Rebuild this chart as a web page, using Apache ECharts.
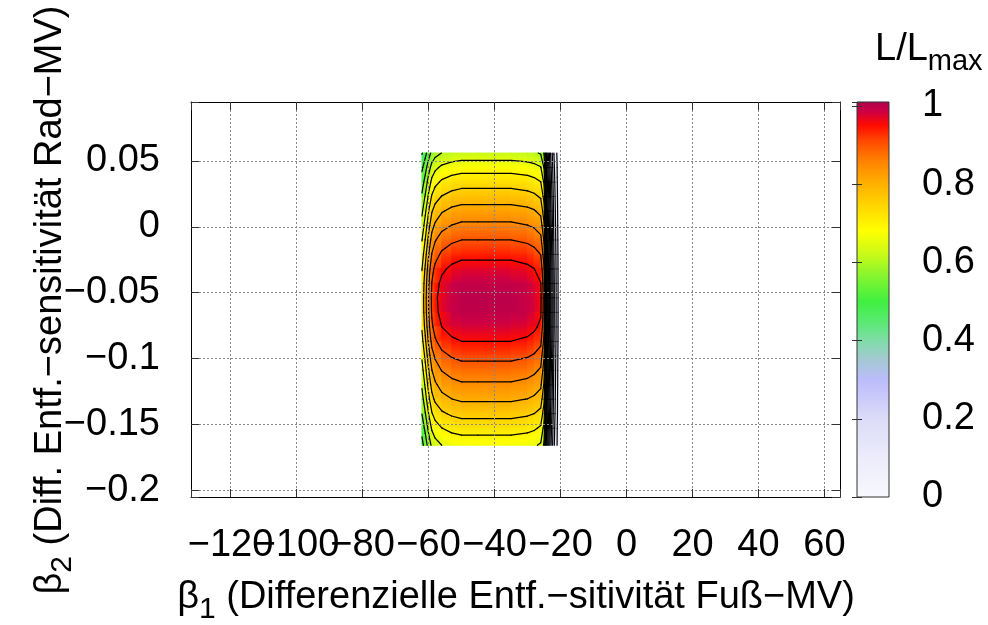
<!DOCTYPE html>
<html>
<head>
<meta charset="utf-8">
<title>L/Lmax</title>
<script src="https://cdn.jsdelivr.net/npm/echarts@6/dist/echarts.min.js"></script>
<style>
html, body { margin: 0; padding: 0; background: #fff; }
#main { width: 988px; height: 625px; }
</style>
</head>
<body>
<div id="main"></div>
<script>
// beta1 grid (columns) and beta2 grid (rows, top to bottom)
var beta1 = [-62, -61, -60, -59, -58, -56, -53, -50, -45, -40, -35, -30, -28, -26, -25, -24, -23, -22, -21, -20.5, -20];
var beta2 = [0.056, 0.045, 0.034, 0.023, 0.012, 0.001, -0.010, -0.021, -0.032, -0.043, -0.054,
             -0.065, -0.076, -0.087, -0.098, -0.109, -0.120, -0.131, -0.142, -0.153, -0.166];

// L/Lmax, one row per beta2 value
var likelihood = [
    [0.446, 0.484, 0.527, 0.564, 0.583, 0.601, 0.614, 0.62, 0.62, 0.62, 0.62, 0.614, 0.608, 0.595, 0.546, 0.341, 0.198, 0.099, 0.043, 0.019, 0.006],
    [0.49, 0.53, 0.578, 0.619, 0.639, 0.66, 0.673, 0.68, 0.68, 0.68, 0.68, 0.673, 0.666, 0.653, 0.598, 0.374, 0.218, 0.109, 0.048, 0.02, 0.007],
    [0.526, 0.569, 0.621, 0.664, 0.686, 0.708, 0.723, 0.73, 0.73, 0.73, 0.73, 0.723, 0.715, 0.701, 0.642, 0.402, 0.234, 0.117, 0.051, 0.022, 0.007],
    [0.558, 0.605, 0.659, 0.705, 0.729, 0.752, 0.767, 0.775, 0.775, 0.775, 0.775, 0.767, 0.76, 0.744, 0.682, 0.426, 0.248, 0.124, 0.054, 0.023, 0.008],
    [0.59, 0.64, 0.697, 0.746, 0.771, 0.795, 0.812, 0.82, 0.82, 0.82, 0.82, 0.812, 0.804, 0.787, 0.722, 0.451, 0.262, 0.131, 0.057, 0.025, 0.008],
    [0.619, 0.671, 0.731, 0.783, 0.808, 0.834, 0.851, 0.86, 0.86, 0.86, 0.86, 0.851, 0.843, 0.826, 0.757, 0.473, 0.275, 0.138, 0.06, 0.026, 0.009],
    [0.648, 0.702, 0.765, 0.819, 0.846, 0.873, 0.891, 0.9, 0.9, 0.9, 0.9, 0.891, 0.882, 0.864, 0.792, 0.495, 0.288, 0.144, 0.063, 0.027, 0.009],
    [0.675, 0.731, 0.796, 0.853, 0.881, 0.909, 0.928, 0.937, 0.937, 0.937, 0.937, 0.928, 0.918, 0.899, 0.825, 0.515, 0.3, 0.15, 0.066, 0.028, 0.009],
    [0.698, 0.757, 0.825, 0.883, 0.912, 0.941, 0.96, 0.97, 0.97, 0.97, 0.97, 0.96, 0.951, 0.931, 0.854, 0.534, 0.31, 0.155, 0.068, 0.029, 0.01],
    [0.714, 0.773, 0.842, 0.902, 0.932, 0.961, 0.981, 0.991, 0.991, 0.991, 0.991, 0.981, 0.971, 0.951, 0.872, 0.545, 0.317, 0.159, 0.069, 0.03, 0.01],
    [0.72, 0.78, 0.85, 0.91, 0.94, 0.97, 0.99, 1, 1, 1, 1, 0.99, 0.98, 0.96, 0.88, 0.55, 0.32, 0.16, 0.07, 0.03, 0.01],
    [0.717, 0.777, 0.847, 0.906, 0.936, 0.966, 0.986, 0.996, 0.996, 0.996, 0.996, 0.986, 0.976, 0.956, 0.876, 0.548, 0.319, 0.159, 0.07, 0.03, 0.01],
    [0.705, 0.764, 0.832, 0.891, 0.92, 0.95, 0.969, 0.979, 0.979, 0.979, 0.979, 0.969, 0.959, 0.94, 0.862, 0.538, 0.313, 0.157, 0.069, 0.029, 0.01],
    [0.684, 0.741, 0.808, 0.865, 0.893, 0.922, 0.941, 0.95, 0.95, 0.95, 0.95, 0.941, 0.931, 0.912, 0.836, 0.523, 0.304, 0.152, 0.067, 0.029, 0.01],
    [0.657, 0.712, 0.776, 0.831, 0.858, 0.886, 0.904, 0.913, 0.913, 0.913, 0.913, 0.904, 0.895, 0.876, 0.803, 0.502, 0.292, 0.146, 0.064, 0.027, 0.009],
    [0.632, 0.685, 0.746, 0.799, 0.825, 0.852, 0.869, 0.878, 0.878, 0.878, 0.878, 0.869, 0.86, 0.843, 0.773, 0.483, 0.281, 0.14, 0.061, 0.026, 0.009],
    [0.607, 0.658, 0.717, 0.767, 0.792, 0.818, 0.835, 0.843, 0.843, 0.843, 0.843, 0.835, 0.826, 0.809, 0.742, 0.464, 0.27, 0.135, 0.059, 0.025, 0.008],
    [0.581, 0.629, 0.686, 0.734, 0.759, 0.783, 0.799, 0.807, 0.807, 0.807, 0.807, 0.799, 0.791, 0.775, 0.71, 0.444, 0.258, 0.129, 0.056, 0.024, 0.008],
    [0.551, 0.597, 0.65, 0.696, 0.719, 0.742, 0.757, 0.765, 0.765, 0.765, 0.765, 0.757, 0.75, 0.734, 0.673, 0.421, 0.245, 0.122, 0.054, 0.023, 0.008],
    [0.519, 0.562, 0.613, 0.656, 0.678, 0.699, 0.714, 0.721, 0.721, 0.721, 0.721, 0.714, 0.707, 0.692, 0.634, 0.397, 0.231, 0.115, 0.05, 0.022, 0.007],
    [0.482, 0.523, 0.57, 0.61, 0.63, 0.65, 0.663, 0.67, 0.67, 0.67, 0.67, 0.663, 0.657, 0.643, 0.59, 0.369, 0.214, 0.107, 0.047, 0.02, 0.007]
];

var contourLevels = [0.05, 0.1, 0.15, 0.2, 0.25, 0.3, 0.35, 0.4, 0.45, 0.5, 0.55, 0.6, 0.65, 0.7, 0.75, 0.8, 0.85, 0.9, 0.95];

// axes
var xRange = [-132, 64.7], xStep = 20;
var yRange = [-0.2053, 0.0948], yStep = 0.05;
var cbRange = [0, 1.01], cbStep = 0.2;

// palette (colour box)
var paletteStops = [0, 0.1, 0.2, 0.3, 0.35, 0.4, 0.45, 0.5, 0.56, 0.62, 0.68, 0.74, 0.8, 0.86, 0.91, 0.95, 0.985, 1.01];
var paletteColors = ['#f8f8fe', '#ececfb', '#dcdcf8', '#bcbcfc', '#a4c8d4', '#80dca8', '#58ea70', '#40f040',
                     '#80f430', '#c8fa18', '#ffff00', '#ffd800', '#ffb000', '#ff8000', '#ff4800', '#ff0a00', '#cc0044', '#b0004e'];

var FONT = 'Liberation Sans';
var FS = 38, FS_SUB = 30;

function hexRgb(h) {
    return [parseInt(h.substr(1, 2), 16), parseInt(h.substr(3, 2), 16), parseInt(h.substr(5, 2), 16)];
}

function palette(v) {
    if (v <= paletteStops[0]) return paletteColors[0];
    for (var k = 1; k < paletteStops.length; k++) {
        if (v <= paletteStops[k]) {
            var t = (v - paletteStops[k - 1]) / (paletteStops[k] - paletteStops[k - 1]);
            var a = hexRgb(paletteColors[k - 1]), b = hexRgb(paletteColors[k]);
            return 'rgb(' + Math.round(a[0] + t * (b[0] - a[0])) + ','
                + Math.round(a[1] + t * (b[1] - a[1])) + ','
                + Math.round(a[2] + t * (b[2] - a[2])) + ')';
        }
    }
    return paletteColors[paletteColors.length - 1];
}

function gradientStops(v0, v1) {
    var stops = [{offset: 0, color: palette(v0)}, {offset: 1, color: palette(v1)}];
    if (Math.abs(v1 - v0) > 1e-9) {
        paletteStops.forEach(function (p) {
            var o = (p - v0) / (v1 - v0);
            if (o > 0 && o < 1) stops.push({offset: o, color: palette(p)});
        });
    }
    stops.sort(function (a, b) { return a.offset - b.offset; });
    return stops;
}

// pm3d-like cells between grid points
var cells = [];
for (var j = 0; j < beta2.length - 1; j++) {
    for (var i = 0; i < beta1.length - 1; i++) {
        cells.push([beta1[i], beta2[j], beta1[i + 1], beta2[j + 1], i, j]);
    }
}

// marching squares on the grid
function contourSegments(level) {
    var segs = [];
    for (var j = 0; j < beta2.length - 1; j++) {
        for (var i = 0; i < beta1.length - 1; i++) {
            var p = [
                [beta1[i], beta2[j], likelihood[j][i]],
                [beta1[i + 1], beta2[j], likelihood[j][i + 1]],
                [beta1[i + 1], beta2[j + 1], likelihood[j + 1][i + 1]],
                [beta1[i], beta2[j + 1], likelihood[j + 1][i]]
            ];
            var pts = [];
            for (var e = 0; e < 4; e++) {
                var a = p[e], b = p[(e + 1) % 4];
                if ((a[2] >= level) !== (b[2] >= level)) {
                    var t = (level - a[2]) / (b[2] - a[2]);
                    pts.push([a[0] + t * (b[0] - a[0]), a[1] + t * (b[1] - a[1])]);
                }
            }
            if (pts.length === 2) {
                segs.push([pts[0][0], pts[0][1], pts[1][0], pts[1][1]]);
            } else if (pts.length === 4) {
                var c = (p[0][2] + p[1][2] + p[2][2] + p[3][2]) / 4;
                if ((c >= level) === (p[0][2] >= level)) {
                    segs.push([pts[0][0], pts[0][1], pts[1][0], pts[1][1]]);
                    segs.push([pts[2][0], pts[2][1], pts[3][0], pts[3][1]]);
                } else {
                    segs.push([pts[3][0], pts[3][1], pts[0][0], pts[0][1]]);
                    segs.push([pts[1][0], pts[1][1], pts[2][0], pts[2][1]]);
                }
            }
        }
    }
    return segs;
}

var contourData = [];
contourLevels.forEach(function (lv) {
    contourData = contourData.concat(contourSegments(lv));
});

function tickLabel(step) {
    return function (v) {
        var k = v / step;
        if (Math.abs(k - Math.round(k)) > 1e-6) return '';
        return String(+v.toFixed(4)).replace('-', '\u2212');
    };
}

var tickStyle = {color: '#333', width: 1};
var borderStyle = {color: '#000', width: 1};
var gridLineStyle = {color: '#888', width: 1, type: [2, 2]};

var chart = echarts.init(document.getElementById('main'));

chart.setOption({
    animation: false,
    backgroundColor: '#fff',
    grid: [
        {left: 191, top: 102, width: 649, height: 395, outerBoundsMode: 'none'},
        {left: 857, top: 102, width: 32, height: 395, outerBoundsMode: 'none'}
    ],
    xAxis: [{
        type: 'value', gridIndex: 0, position: 'bottom', z: 3,
        min: xRange[0], max: xRange[1], minInterval: xStep, maxInterval: xStep,
        axisLine: {show: true, onZero: false, lineStyle: borderStyle},
        axisTick: {show: true, inside: true, length: 8, lineStyle: tickStyle},
        axisLabel: {show: true, formatter: tickLabel(xStep), fontSize: FS, fontFamily: FONT, color: '#000', margin: 30, hideOverlap: false},
        splitLine: {show: true, lineStyle: gridLineStyle}
    }, {
        type: 'value', gridIndex: 0, position: 'top', z: 3,
        min: xRange[0], max: xRange[1], minInterval: xStep, maxInterval: xStep,
        axisLine: {show: true, onZero: false, lineStyle: borderStyle},
        axisTick: {show: true, inside: true, length: 8, lineStyle: tickStyle},
        axisLabel: {show: false},
        splitLine: {show: false}
    }, {
        type: 'value', gridIndex: 1, show: false, min: 0, max: 1
    }],
    yAxis: [{
        type: 'value', gridIndex: 0, position: 'left', z: 3,
        min: yRange[0], max: yRange[1], minInterval: yStep, maxInterval: yStep,
        axisLine: {show: true, onZero: false, lineStyle: borderStyle},
        axisTick: {show: true, inside: true, length: 8, lineStyle: tickStyle},
        axisLabel: {show: true, formatter: tickLabel(yStep), fontSize: FS, fontFamily: FONT, color: '#000', margin: 31, hideOverlap: false},
        splitLine: {show: true, lineStyle: gridLineStyle}
    }, {
        type: 'value', gridIndex: 0, position: 'right', z: 3,
        min: yRange[0], max: yRange[1], minInterval: yStep, maxInterval: yStep,
        axisLine: {show: true, onZero: false, lineStyle: borderStyle},
        axisTick: {show: true, inside: true, length: 8, lineStyle: tickStyle},
        axisLabel: {show: false},
        splitLine: {show: false}
    }, {
        type: 'value', gridIndex: 1, position: 'right', z: 3,
        min: cbRange[0], max: cbRange[1], minInterval: cbStep, maxInterval: cbStep,
        axisLine: {show: false},
        axisTick: {show: true, inside: true, length: 5, lineStyle: tickStyle},
        axisLabel: {show: true, formatter: tickLabel(cbStep), fontSize: FS, fontFamily: FONT, color: '#000', margin: 33, padding: [6, 0, 0, 0]},
        splitLine: {show: false}
    }, {
        type: 'value', gridIndex: 1, position: 'left', z: 3,
        min: cbRange[0], max: cbRange[1], minInterval: cbStep, maxInterval: cbStep,
        axisLine: {show: false},
        axisTick: {show: true, inside: true, length: 5, lineStyle: tickStyle},
        axisLabel: {show: false},
        splitLine: {show: false}
    }],
    series: [{
        // surface
        type: 'custom', xAxisIndex: 0, yAxisIndex: 0, z: 1, silent: true,
        encode: {x: [0, 2], y: [1, 3]},
        data: cells,
        renderItem: function (params, api) {
            var i = api.value(4), j = api.value(5);
            var p0 = api.coord([api.value(0), api.value(1)]);
            var p1 = api.coord([api.value(2), api.value(3)]);
            var a = likelihood[j][i], b = likelihood[j][i + 1];
            var c = likelihood[j + 1][i], d = likelihood[j + 1][i + 1];
            var left = (a + c) / 2, right = (b + d) / 2, top = (a + b) / 2, bottom = (c + d) / 2;
            var fill;
            if (Math.abs(right - left) > Math.abs(top - bottom)) {
                fill = new echarts.graphic.LinearGradient(0, 0, 1, 0, gradientStops(left, right));
            } else {
                fill = new echarts.graphic.LinearGradient(0, 0, 0, 1, gradientStops(top, bottom));
            }
            return {
                type: 'rect',
                shape: {x: p0[0] - 0.5, y: p0[1] - 0.5, width: p1[0] - p0[0] + 1, height: p1[1] - p0[1] + 1},
                style: {fill: fill}
            };
        }
    }, {
        // contour lines
        type: 'custom', xAxisIndex: 0, yAxisIndex: 0, z: 2, silent: true,
        encode: {x: [0, 2], y: [1, 3]},
        data: contourData,
        renderItem: function (params, api) {
            var s = api.coord([api.value(0), api.value(1)]);
            var e = api.coord([api.value(2), api.value(3)]);
            return {
                type: 'line',
                shape: {x1: s[0], y1: s[1], x2: e[0], y2: e[1]},
                style: {stroke: '#000', lineWidth: 1.2, lineCap: 'round'}
            };
        }
    }, {
        // colour box
        type: 'custom', xAxisIndex: 2, yAxisIndex: 2, z: 1, silent: true,
        encode: {x: [0, 2], y: [1, 3]},
        data: [[0, cbRange[0], 1, cbRange[1]]],
        renderItem: function (params, api) {
            var tl = api.coord([api.value(0), api.value(3)]);
            var br = api.coord([api.value(2), api.value(1)]);
            var stops = paletteStops.map(function (p, k) {
                return {offset: (p - cbRange[0]) / (cbRange[1] - cbRange[0]), color: paletteColors[k]};
            });
            return {
                type: 'rect',
                shape: {x: tl[0], y: tl[1], width: br[0] - tl[0], height: br[1] - tl[1]},
                style: {fill: new echarts.graphic.LinearGradient(0, 1, 0, 0, stops), stroke: '#333', lineWidth: 1}
            };
        }
    }],
    graphic: [{
        type: 'text', x: 516, y: 598, silent: true,
        style: {
            text: '\u03b2{s|1} (Differenzielle Entf.\u2212sitivit\u00e4t Fu\u00df\u2212MV)',
            fontSize: FS, fontFamily: FONT, fill: '#000', align: 'center', verticalAlign: 'middle',
            rich: {s: {fontSize: FS_SUB, fontFamily: FONT, fill: '#000', padding: [24, 0, 0, 0]}}
        }
    }, {
        type: 'text', x: 51, y: 300, rotation: Math.PI / 2, silent: true,
        style: {
            text: '\u03b2{s|2} (Diff. Entf.\u2212sensitivit\u00e4t Rad\u2212MV)',
            fontSize: FS, fontFamily: FONT, fill: '#000', align: 'center', verticalAlign: 'middle',
            rich: {s: {fontSize: FS_SUB, fontFamily: FONT, fill: '#000', padding: [24, 0, 0, 0]}}
        }
    }, {
        type: 'text', x: 875, y: 50, silent: true,
        style: {
            text: 'L/L{s|max}',
            fontSize: FS, fontFamily: FONT, fill: '#000', align: 'left', verticalAlign: 'middle',
            rich: {s: {fontSize: FS_SUB - 1, fontFamily: FONT, fill: '#000', padding: [24, 0, 0, 0]}}
        }
    }]
});
</script>
</body>
</html>
